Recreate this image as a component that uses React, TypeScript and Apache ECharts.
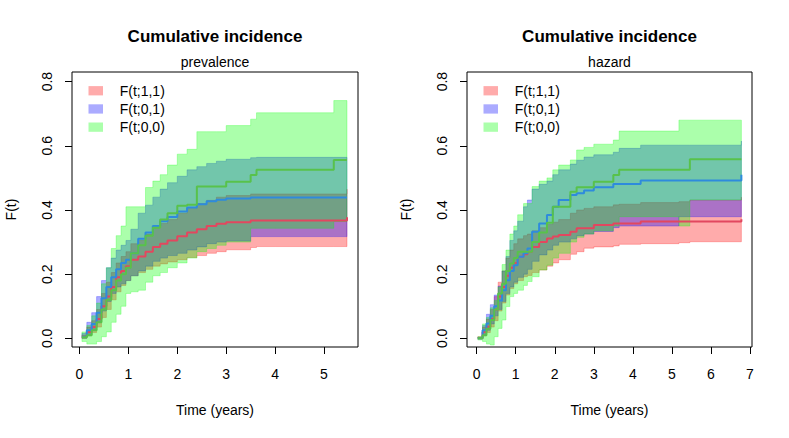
import React, { useEffect, useRef } from "react";
import * as echarts from "echarts";

// ---------- data ----------
const groupNames = ["F(t;1,1)", "F(t;0,1)", "F(t;0,0)"];
const mainTitle = "Cumulative incidence";
const panelSubtitles = ["prevalence", "hazard"];
const xAxisName = "Time (years)";
const yAxisName = "F(t)";
const yTicks = [0, 0.2, 0.4, 0.6, 0.8];
const xTicksPrev = [0, 1, 2, 3, 4, 5];
const xTicksHaz = [0, 1, 2, 3, 4, 5, 6, 7];

// prevalence panel
const timePrev = [0.05, 0.15, 0.25, 0.35, 0.45, 0.55, 0.65, 0.75, 0.85, 0.95, 1.05, 1.2, 1.35, 1.5, 1.65, 1.8, 2.0, 2.2, 2.4, 2.6, 2.8, 3.0, 3.5, 3.62, 4.0, 5.2, 5.47];
const prevRedEst = [0.005, 0.02, 0.035, 0.06, 0.1, 0.13, 0.16, 0.19, 0.21, 0.225, 0.245, 0.255, 0.27, 0.285, 0.295, 0.305, 0.318, 0.33, 0.34, 0.35, 0.357, 0.362, 0.367, 0.367, 0.367, 0.367, 0.377];
const prevRedLo = [0.0, 0.008, 0.018, 0.035, 0.065, 0.09, 0.12, 0.145, 0.165, 0.18, 0.195, 0.205, 0.215, 0.225, 0.232, 0.238, 0.245, 0.252, 0.258, 0.265, 0.27, 0.276, 0.283, 0.286, 0.286, 0.286, 0.286];
const prevRedHi = [0.01, 0.035, 0.055, 0.09, 0.14, 0.175, 0.205, 0.235, 0.255, 0.27, 0.295, 0.305, 0.325, 0.345, 0.358, 0.37, 0.39, 0.405, 0.42, 0.43, 0.44, 0.445, 0.45, 0.45, 0.45, 0.45, 0.465];
const prevBlueEst = [0.005, 0.025, 0.045, 0.08, 0.125, 0.16, 0.19, 0.215, 0.235, 0.245, 0.265, 0.31, 0.33, 0.35, 0.365, 0.378, 0.395, 0.408, 0.418, 0.427, 0.432, 0.436, 0.439, 0.439, 0.439, 0.439, 0.439];
const prevBlueLo = [0.0, 0.01, 0.025, 0.05, 0.085, 0.115, 0.14, 0.16, 0.17, 0.18, 0.195, 0.21, 0.225, 0.24, 0.25, 0.258, 0.265, 0.275, 0.285, 0.295, 0.3, 0.303, 0.317, 0.317, 0.317, 0.317, 0.317];
const prevBlueHi = [0.015, 0.05, 0.08, 0.13, 0.18, 0.22, 0.25, 0.275, 0.29, 0.305, 0.34, 0.39, 0.415, 0.44, 0.465, 0.485, 0.505, 0.525, 0.535, 0.545, 0.552, 0.558, 0.563, 0.564, 0.564, 0.564, 0.564];
const prevGreenEst = [0.003, 0.01, 0.025, 0.05, 0.09, 0.12, 0.15, 0.18, 0.2, 0.22, 0.265, 0.29, 0.32, 0.345, 0.37, 0.39, 0.413, 0.416, 0.473, 0.473, 0.473, 0.488, 0.509, 0.525, 0.525, 0.556, 0.556];
const prevGreenLo = [-0.01, -0.018, -0.018, -0.01, 0.005, 0.02, 0.05, 0.075, 0.1, 0.14, 0.145, 0.15, 0.175, 0.195, 0.205, 0.22, 0.235, 0.25, 0.27, 0.28, 0.29, 0.3, 0.343, 0.343, 0.343, 0.364, 0.364];
const prevGreenHi = [0.02, 0.04, 0.07, 0.11, 0.17, 0.22, 0.28, 0.32, 0.35, 0.41, 0.41, 0.41, 0.47, 0.49, 0.51, 0.54, 0.574, 0.589, 0.644, 0.644, 0.644, 0.663, 0.683, 0.703, 0.703, 0.741, 0.741];

// hazard panel
const timeHaz = [0.03, 0.15, 0.25, 0.35, 0.45, 0.55, 0.65, 0.75, 0.85, 0.95, 1.05, 1.2, 1.3, 1.42, 1.6, 1.8, 1.95, 2.1, 2.4, 2.56, 2.75, 3.0, 3.5, 3.65, 4.2, 5.18, 5.46, 6.78];
const hazRedEst = [0.0, 0.02, 0.036, 0.06, 0.09, 0.13, 0.16, 0.195, 0.22, 0.235, 0.254, 0.262, 0.27, 0.285, 0.3, 0.311, 0.317, 0.322, 0.332, 0.343, 0.343, 0.353, 0.358, 0.358, 0.364, 0.364, 0.364, 0.371];
const hazRedLo = [0.0, 0.008, 0.018, 0.035, 0.055, 0.085, 0.11, 0.135, 0.155, 0.17, 0.18, 0.192, 0.196, 0.205, 0.213, 0.225, 0.235, 0.245, 0.262, 0.27, 0.281, 0.285, 0.288, 0.293, 0.295, 0.298, 0.301, 0.301];
const hazRedHi = [0.005, 0.035, 0.06, 0.09, 0.13, 0.175, 0.21, 0.25, 0.275, 0.295, 0.31, 0.32, 0.325, 0.335, 0.345, 0.355, 0.362, 0.37, 0.39, 0.4, 0.405, 0.41, 0.416, 0.418, 0.423, 0.426, 0.431, 0.44];
const hazBlueEst = [0.0, 0.025, 0.046, 0.07, 0.1, 0.118, 0.15, 0.181, 0.21, 0.228, 0.254, 0.265, 0.28, 0.332, 0.358, 0.384, 0.41, 0.431, 0.447, 0.452, 0.461, 0.471, 0.481, 0.481, 0.492, 0.492, 0.492, 0.51];
const hazBlueLo = [0.0, 0.01, 0.025, 0.045, 0.07, 0.09, 0.115, 0.14, 0.16, 0.175, 0.19, 0.2, 0.215, 0.24, 0.26, 0.275, 0.29, 0.3, 0.31, 0.32, 0.325, 0.333, 0.345, 0.35, 0.35, 0.379, 0.379, 0.379];
const hazBlueHi = [0.003, 0.04, 0.075, 0.105, 0.135, 0.163, 0.21, 0.255, 0.305, 0.335, 0.365, 0.41, 0.431, 0.465, 0.48, 0.49, 0.51, 0.525, 0.543, 0.555, 0.565, 0.572, 0.58, 0.592, 0.602, 0.602, 0.602, 0.615];
const hazGreenEst = [0.0, 0.01, 0.03, 0.057, 0.09, 0.14, 0.17, 0.21, 0.233, 0.25, 0.27, 0.27, 0.27, 0.3, 0.33, 0.36, 0.41, 0.41, 0.457, 0.471, 0.471, 0.488, 0.509, 0.525, 0.525, 0.525, 0.558, 0.558];
const hazGreenLo = [-0.005, -0.01, -0.018, -0.021, 0.005, 0.031, 0.057, 0.099, 0.13, 0.14, 0.15, 0.165, 0.177, 0.192, 0.213, 0.228, 0.25, 0.265, 0.3, 0.315, 0.325, 0.335, 0.35, 0.379, 0.379, 0.35, 0.431, 0.431];
const hazGreenHi = [0.005, 0.045, 0.065, 0.095, 0.118, 0.16, 0.23, 0.275, 0.325, 0.35, 0.385, 0.42, 0.42, 0.473, 0.49, 0.5, 0.525, 0.54, 0.556, 0.587, 0.595, 0.605, 0.618, 0.646, 0.646, 0.68, 0.68, 0.68];

// ---------- styling ----------
const FONT = "'Liberation Sans', Arial, Helvetica, sans-serif";
const bandFill = ["rgba(255,0,0,0.33)", "rgba(0,0,255,0.33)", "rgba(0,255,0,0.33)"];
const bandEdge = ["rgba(255,0,0,0.25)", "rgba(0,0,255,0.25)", "rgba(0,255,0,0.25)"];
const lineColor = ["#E2475F", "#2E8BDD", "#58C24B"];
const GRID_TOP = 72;
const GRID_H = 275;
const Y_MIN = -0.027;
const Y_MAX = 0.83;

const panels = [
  {
    left: 72, width: 286, xMin: -0.153, xMax: 5.695, xTicks: xTicksPrev, time: timePrev, subtitle: panelSubtitles[0],
    groups: [[prevRedEst, prevRedLo, prevRedHi], [prevBlueEst, prevBlueLo, prevBlueHi], [prevGreenEst, prevGreenLo, prevGreenHi]],
  },
  {
    left: 467, width: 285, xMin: -0.248, xMax: 7.052, xTicks: xTicksHaz, time: timeHaz, subtitle: panelSubtitles[1],
    groups: [[hazRedEst, hazRedLo, hazRedHi], [hazBlueEst, hazBlueLo, hazBlueHi], [hazGreenEst, hazGreenLo, hazGreenHi]],
  },
];

function textEl(text: string, x: number, y: number, size: number, weight: string, align: string) {
  return {
    type: "text", x, y, silent: true,
    style: {
      text, fill: "#000", fontSize: size, fontWeight: weight, fontFamily: FONT,
      align, verticalAlign: "middle", textAlign: align, textVerticalAlign: "middle",
    },
  };
}

// step ("s") band polygon, drawn through the axis scales with api.coord
function makeBandRenderer(time: number[], lo: number[], hi: number[], gi: number) {
  return (params: any, api: any) => {
    if (params.dataIndex !== 0) return null;
    const n = time.length;
    const upper: number[][] = [];
    const lower: number[][] = [];
    for (let i = 0; i < n; i++) {
      upper.push(api.coord([time[i], hi[i]]));
      lower.push(api.coord([time[i], lo[i]]));
      if (i < n - 1) {
        upper.push(api.coord([time[i + 1], hi[i]]));
        lower.push(api.coord([time[i + 1], lo[i]]));
      }
    }
    const points = upper.concat(lower.reverse());
    return {
      type: "polygon",
      shape: { points },
      style: { fill: bandFill[gi], stroke: bandEdge[gi], lineWidth: 1 },
    };
  };
}

export default function App() {
  const ref = useRef<HTMLDivElement>(null);
  useEffect(() => {
    document.body.style.margin = "0";
    const chart = echarts.init(ref.current!, null, { renderer: "svg" });
    const grid: any[] = [];
    const xAxis: any[] = [];
    const yAxis: any[] = [];
    const series: any[] = [];
    const graphic: any[] = [];

    panels.forEach((p, pi) => {
      grid.push({
        left: p.left, top: GRID_TOP, width: p.width, height: GRID_H,
        show: true, borderColor: "#000", borderWidth: 1, backgroundColor: "transparent", containLabel: false,
      });
      xAxis.push({
        type: "value", gridIndex: pi, min: p.xMin, max: p.xMax,
        name: xAxisName, nameLocation: "middle", nameGap: 56, nameMoveOverlap: false,
        nameTextStyle: { fontSize: 14, color: "#000", fontFamily: FONT },
        axisLine: { show: false, onZero: false },
        axisTick: { show: true, length: 7, customValues: p.xTicks, lineStyle: { color: "#000", width: 1 } },
        axisLabel: { customValues: p.xTicks, fontSize: 14, color: "#000", fontFamily: FONT, margin: 20, formatter: (v: number) => String(v) },
        splitLine: { show: false },
      });
      yAxis.push({
        type: "value", gridIndex: pi, min: Y_MIN, max: Y_MAX,
        name: yAxisName, nameLocation: "middle", nameGap: 54, nameRotate: 90, nameMoveOverlap: false,
        nameTextStyle: { fontSize: 14, color: "#000", fontFamily: FONT },
        axisLine: { show: false, onZero: false },
        axisTick: { show: true, length: 7, customValues: yTicks, lineStyle: { color: "#000", width: 1 } },
        axisLabel: { customValues: yTicks, rotate: 90, fontSize: 14, color: "#000", fontFamily: FONT, margin: 18, formatter: (v: number) => v.toFixed(1) },
        splitLine: { show: false },
      });

      p.groups.forEach((g, gi) => {
        const [, lo, hi] = g;
        series.push({
          type: "custom", name: groupNames[gi], xAxisIndex: pi, yAxisIndex: pi, silent: true,
          renderItem: makeBandRenderer(p.time, lo, hi, gi),
          encode: { x: 0, y: [1, 2] },
          data: p.time.map((t, i) => [t, lo[i], hi[i]]),
        });
      });
      p.groups.forEach((g, gi) => {
        const [est] = g;
        series.push({
          type: "line", name: `${groupNames[gi]} estimate`, xAxisIndex: pi, yAxisIndex: pi,
          step: "end", symbol: "none", silent: true,
          lineStyle: { color: lineColor[gi], width: 2 },
          data: p.time.map((t, i) => [t, est[i]]),
        });
      });

      const cx = p.left + p.width / 2;
      graphic.push(textEl(mainTitle, cx, 36, 17, "bold", "center"));
      graphic.push(textEl(p.subtitle, cx, 62, 14, "normal", "center"));
      groupNames.forEach((name, gi) => {
        const cy = 90.7 + gi * 18.2;
        graphic.push({
          type: "rect", silent: true,
          shape: { x: p.left + 16.5, y: cy - 4.6, width: 14.5, height: 9.3 },
          style: { fill: bandFill[gi] },
        });
        graphic.push(textEl(name, p.left + 47.7, cy, 14, "normal", "left"));
      });
    });

    chart.setOption({
      animation: false,
      backgroundColor: "#fff",
      grid, xAxis, yAxis, series, graphic,
    });
    return () => chart.dispose();
  }, []);
  return <div ref={ref} style={{ position: "absolute", left: 0, top: 0, width: 789, height: 438 }} />;
}
